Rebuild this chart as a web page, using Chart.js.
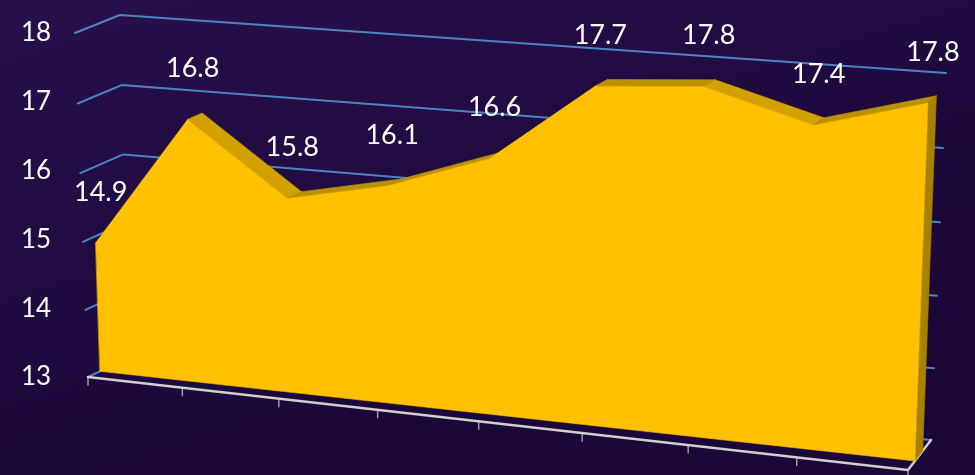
<!DOCTYPE html>
<html><head><meta charset="utf-8">
<script src="https://cdn.jsdelivr.net/npm/chart.js@4/dist/chart.umd.min.js"></script>
<style>html,body{margin:0;padding:0;background:#220d44;overflow:hidden}#wrap{width:975px;height:475px;position:relative}</style>
</head><body><div id="wrap"><canvas id="c" width="975" height="475"></canvas></div>
<script>
// ---- data ----
const categories = ['1','2','3','4','5','6','7','8','9'];
const values = [14.9, 16.8, 15.8, 16.1, 16.6, 17.7, 17.8, 17.4, 17.8];
const yTicks = [13, 14, 15, 16, 17, 18];
const yMin = 13, yMax = 18;

// ---- 3D frame (screen layout of the box corners: front plane w=0, back wall w=1) ----
const FRONT = {bl:[88,377], br:[908,470], tr:[921,94], tl:[75,33]};
const BACK  = {bl:[128,358], br:[931,440], tr:[946,73], tl:[120,15]};
const AREA_W0 = 0.30, AREA_W1 = 0.64;

function homog(q){
  const [x0,y0]=q.bl,[x1,y1]=q.br,[x2,y2]=q.tr,[x3,y3]=q.tl;
  const dx1=x1-x2, dx2=x3-x2, dx3=x0-x1+x2-x3;
  const dy1=y1-y2, dy2=y3-y2, dy3=y0-y1+y2-y3;
  const den=dx1*dy2-dx2*dy1;
  const g=(dx3*dy2-dx2*dy3)/den, h=(dx1*dy3-dx3*dy1)/den;
  const a=x1-x0+g*x1, b=x3-x0+h*x3, c=x0, d=y1-y0+g*y1, e=y3-y0+h*y3, f=y0;
  return (u,v)=>{const w=g*u+h*v+1;return [(a*u+b*v+c)/w,(d*u+e*v+f)/w];};
}
const H0 = homog(FRONT), H1 = homog(BACK);
function P(u,v,w){const a=H0(u,v),b=H1(u,v);return [a[0]+(b[0]-a[0])*w,a[1]+(b[1]-a[1])*w];}

function poly(ctx,pts,fill){ctx.beginPath();ctx.moveTo(pts[0][0],pts[0][1]);for(let i=1;i<pts.length;i++)ctx.lineTo(pts[i][0],pts[i][1]);ctx.closePath();ctx.fillStyle=fill;ctx.fill();ctx.strokeStyle=fill;ctx.lineWidth=0.6;ctx.stroke();}

const scene = {
  id:'scene3d',
  beforeDraw(chart){
    const {ctx,width,height}=chart;
    const g=ctx.createLinearGradient(0,0,width*0.15,height);
    g.addColorStop(0,'#28104c'); g.addColorStop(1,'#1b0839');
    ctx.save(); ctx.fillStyle=g; ctx.fillRect(0,0,width,height); ctx.restore();
  },
  beforeDatasetsDraw(chart){
    const {ctx,chartArea:ar}=chart;
    const ys=chart.scales.y;
    const meta=chart.getDatasetMeta(0);
    const toV=py=>(ar.bottom-py)/(ar.bottom-ar.top);
    const toU=px=>(px-ar.left)/(ar.right-ar.left);
    ctx.save();
    ctx.lineCap='round'; ctx.lineJoin='round';
    // gridlines: side wall + back wall
    ctx.strokeStyle='#4b84c4'; ctx.lineWidth=2;
    ys.ticks.forEach(t=>{
      const v=toV(ys.getPixelForValue(t.value));
      const a=P(0,v,0),b=P(0,v,1),c=P(1,v,1);
      ctx.beginPath();ctx.moveTo(a[0],a[1]);ctx.lineTo(b[0],b[1]);ctx.lineTo(c[0],c[1]);ctx.stroke();
    });
    // floor edges + ticks
    const f0=P(0,0,0),f1=P(1,0,0),f2=P(1,0,1);
    ctx.strokeStyle='#9a9a9a'; ctx.lineWidth=1.5;
    meta.data.forEach(pt=>{const p=P(toU(pt.x),0,0);ctx.beginPath();ctx.moveTo(p[0],p[1]);ctx.lineTo(p[0],p[1]+8);ctx.stroke();});
    ctx.strokeStyle='#cfcfcf'; ctx.lineWidth=2.5;
    ctx.beginPath();ctx.moveTo(f0[0],f0[1]);ctx.lineTo(f1[0],f1[1]);ctx.lineTo(f2[0],f2[1]);ctx.stroke();
    // area prism
    const uv=meta.data.map(pt=>[toU(pt.x),toV(pt.y)]);
    const F=uv.map(([u,v])=>P(u,v,AREA_W0));
    const B=uv.map(([u,v])=>P(u,v,AREA_W1));
    const n=uv.length;
    for(let i=0;i<n-1;i++){
      const down=uv[i+1][1]<uv[i][1]-0.02;
      poly(ctx,[F[i],F[i+1],B[i+1],B[i]], down?'#d2a100':'#bb9100');
    }
    const uL=uv[n-1][0];
    poly(ctx,[F[n-1],P(uL,0,AREA_W0),P(uL,0,AREA_W1),B[n-1]],'#a98100');
    const front=F.slice(); front.push(P(uL,0,AREA_W0)); front.push(P(uv[0][0],0,AREA_W0));
    poly(ctx,front,'#ffc000');
    // data labels
    ctx.fillStyle='#ffffff'; ctx.font='27px Lato'; ctx.textAlign='center'; ctx.textBaseline='middle';
    F.forEach((p,i)=>{ctx.fillText(values[i].toFixed(1),p[0]+5,p[1]-51);});
    ctx.restore();
  }
};

new Chart(document.getElementById('c'),{
  type:'line',
  data:{labels:categories,datasets:[{data:values,showLine:false,pointRadius:0,pointHoverRadius:0,borderWidth:0,fill:false}]},
  options:{
    responsive:false, animation:false, devicePixelRatio:1,
    layout:{padding:{top:33,bottom:98,left:17,right:40}},
    plugins:{legend:{display:false},tooltip:{enabled:false}},
    events:[],
    scales:{
      x:{type:'category',offset:false,display:false},
      y:{min:yMin,max:yMax,
         afterBuildTicks:axis=>{axis.ticks=yTicks.map(v=>({value:v}));},
         grid:{display:false,drawTicks:false},border:{display:false},
         ticks:{color:'#ffffff',font:{family:'Lato',size:26},padding:4,crossAlign:'center'}}
    }
  },
  plugins:[scene]
});
</script></body></html>
